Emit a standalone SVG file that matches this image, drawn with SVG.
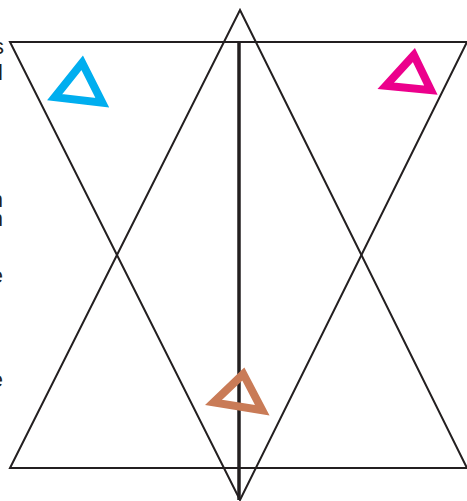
<svg xmlns="http://www.w3.org/2000/svg" width="467" height="501" viewBox="0 0 467 501">
<style>
.ln{fill:none;stroke:#231F20;stroke-width:2;stroke-linejoin:miter}
.tri{fill:none;stroke-width:8;stroke-linejoin:miter;stroke-miterlimit:10}
.lbl{font-family:"Liberation Sans",Arial,sans-serif;font-size:22px;fill:#231F20;text-anchor:end}
</style>
<rect width="467" height="501" fill="#FFFFFF"/>
<g id="labels">
<text class="lbl" x="4" y="54">s</text>
<text class="lbl" x="3" y="80">l</text>
<text class="lbl" x="3" y="207">n</text>
<text class="lbl" x="3" y="226">n</text>
<text class="lbl" x="3" y="283">e</text>
<text class="lbl" x="3" y="387">e</text>
</g>
<g id="connectors">
<polygon class="ln" points="10,42 467,42 240,500"/>
<polygon class="ln" points="240,10 467,468 10,468"/>
<line x1="239" y1="42" x2="239" y2="500" stroke="#231F20" stroke-width="3.5"/>
</g>
<g id="blue-triangle">
<polygon class="tri" stroke="#00AEEF" points="82.2,62.8 54.7,97.2 102.3,102.7"/>
</g>
<g id="pink-triangle">
<polygon class="tri" stroke="#EC008C" points="413.9,55 385.8,85.8 430.9,90.2"/>
</g>
<g id="brown-triangle">
<polygon class="tri" stroke="#C97B57" points="243.3,374 213.6,402.4 262.3,410.3"/>
</g>
</svg>
